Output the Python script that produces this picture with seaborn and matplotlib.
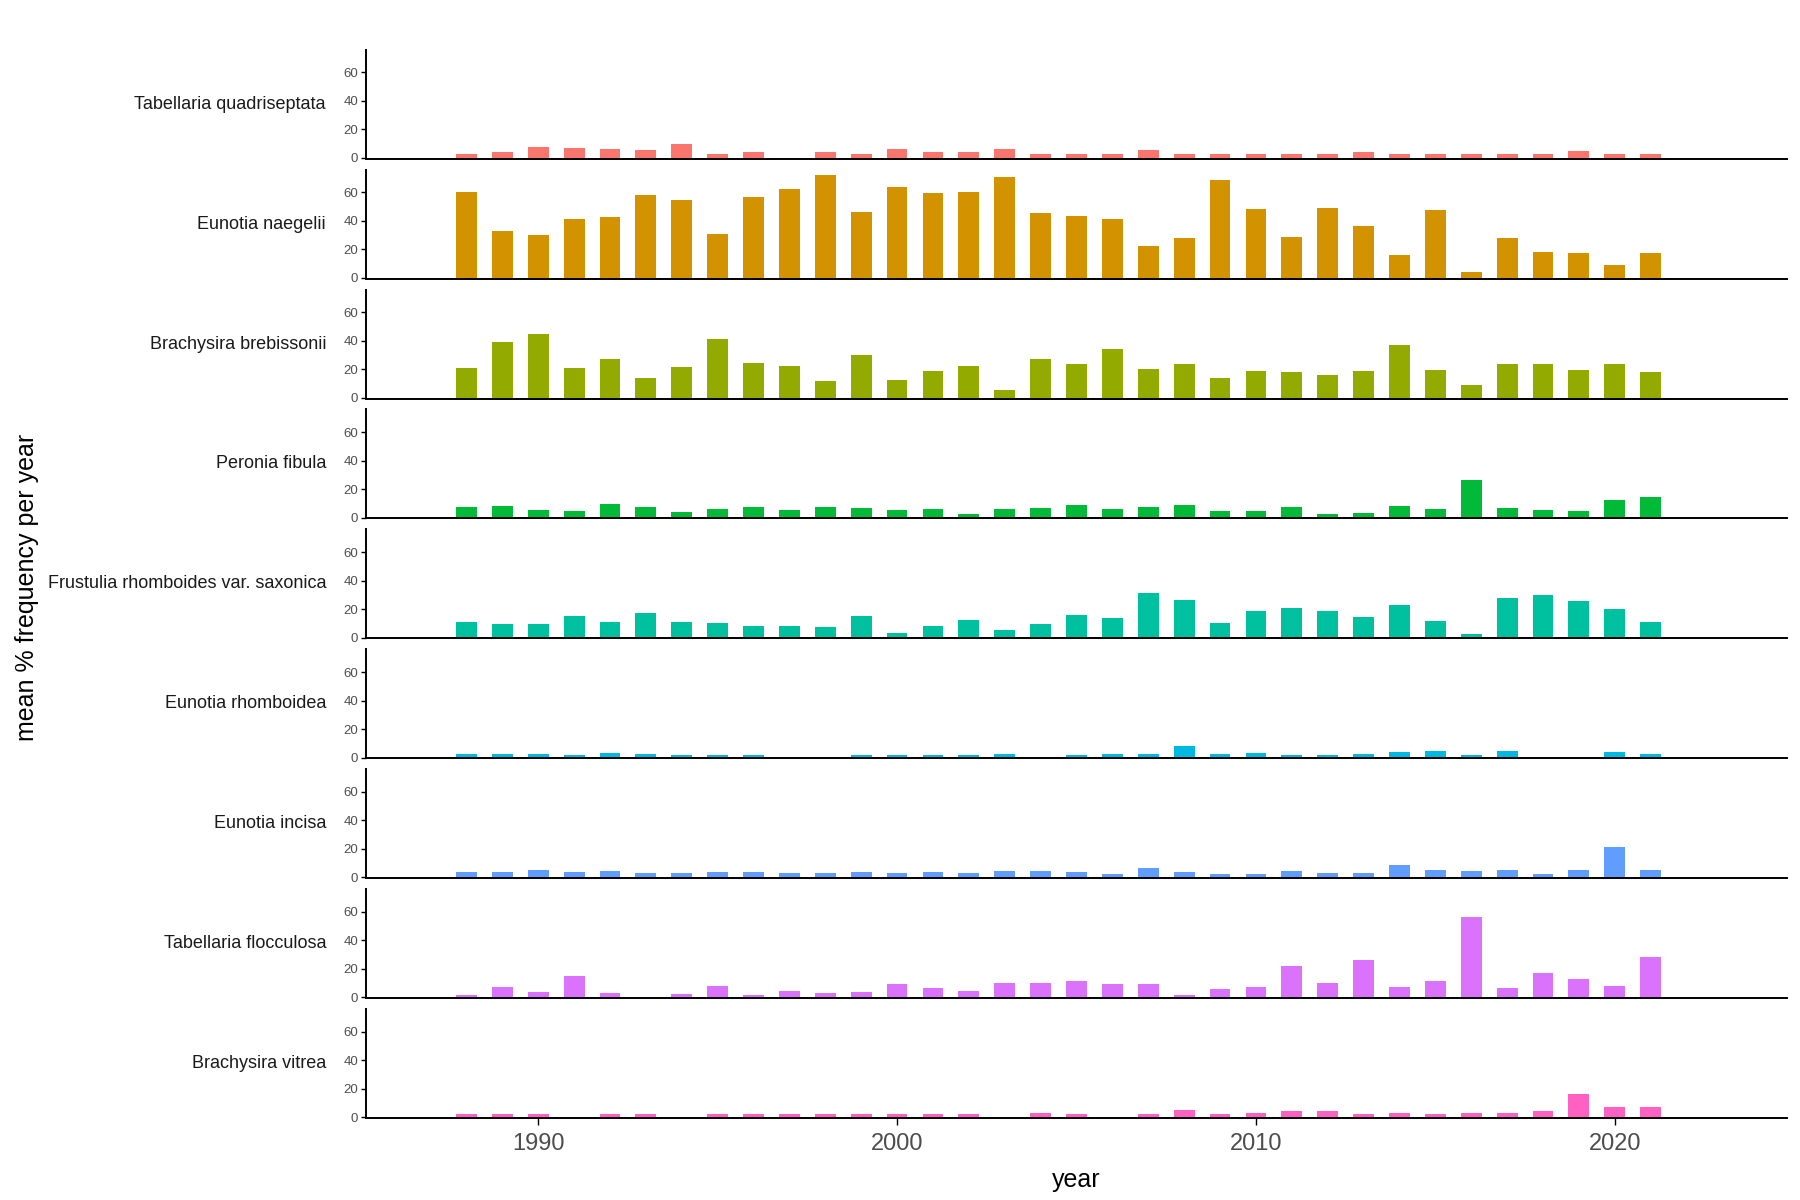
import numpy as np
import pandas as pd
import matplotlib
matplotlib.use("Agg")
import matplotlib.pyplot as plt
import seaborn as sns

nan = np.nan
years = list(range(1988, 2022))

species = [
    "Tabellaria quadriseptata",
    "Eunotia naegelii",
    "Brachysira brebissonii",
    "Peronia fibula",
    "Frustulia rhomboides var. saxonica",
    "Eunotia rhomboidea",
    "Eunotia incisa",
    "Tabellaria flocculosa",
    "Brachysira vitrea",
]

tabellaria_quadriseptata = [2.6, 3.9, 7.5, 6.8, 6.0, 5.3, 9.7, 3.1, 3.9, nan, 3.9, 2.6, 6.0, 3.9, 3.9, 6.0, 3.1,
                            2.6, 2.6, 5.3, 2.6, 3.1, 3.1, 2.6, 3.1, 3.9, 2.6, 3.1, 3.1, 2.6, 2.6, 4.6, 2.6, 2.6]
eunotia_naegelii = [60.2, 33.2, 30.2, 41.2, 42.7, 58.0, 55.0, 31.0, 56.6, 62.4, 72.0, 46.3, 63.9, 59.5, 60.2, 70.5,
                    45.6, 43.4, 41.2, 22.2, 28.0, 69.0, 48.5, 28.8, 49.3, 36.1, 16.3, 47.8, 3.9, 28.0, 18.5, 17.8,
                    9.0, 17.8]
brachysira_brebissonii = [21.0, 39.0, 45.0, 21.0, 27.0, 13.6, 21.7, 41.3, 24.6, 22.4, 12.0, 29.7, 12.8, 18.6, 22.4,
                          5.5, 27.0, 23.8, 34.0, 20.1, 23.8, 13.6, 18.6, 17.9, 15.7, 18.6, 36.9, 19.4, 9.1, 23.8,
                          23.8, 19.4, 23.8, 17.9]
peronia_fibula = [7.5, 8.2, 5.3, 4.6, 9.7, 7.5, 3.9, 6.0, 7.5, 5.3, 7.5, 6.8, 5.3, 6.0, 2.6, 6.0, 6.8, 9.0, 6.0,
                  7.5, 9.0, 4.6, 4.6, 7.5, 2.6, 3.1, 8.2, 6.0, 26.4, 6.8, 5.3, 4.6, 12.6, 14.8]
frustulia_saxonica = [11.3, 9.8, 9.8, 15.0, 11.3, 17.2, 11.3, 10.5, 8.3, 8.3, 7.6, 15.0, 3.2, 8.3, 12.7, 5.4, 9.8,
                      15.7, 13.5, 31.1, 26.7, 10.5, 18.6, 20.8, 18.6, 14.2, 23.0, 12.0, 2.6, 27.5, 29.7, 26.0,
                      20.1, 11.3]
eunotia_rhomboidea = [2.6, 2.6, 2.6, 2.0, 3.2, 2.6, 2.0, 2.0, 2.0, nan, nan, 2.0, 2.0, 2.0, 2.0, 2.6, nan, 2.0,
                      2.6, 2.6, 8.1, 2.6, 3.2, 2.0, 2.0, 2.6, 3.7, 4.4, 2.0, 4.4, nan, nan, 3.7, 2.6]
eunotia_incisa = [3.7, 3.7, 5.2, 3.7, 4.4, 3.0, 3.0, 3.7, 3.7, 3.0, 3.0, 3.7, 3.0, 3.7, 3.0, 4.4, 4.4, 3.7, 2.4,
                  6.6, 3.7, 2.4, 2.4, 4.4, 3.0, 3.0, 8.8, 5.2, 4.4, 5.2, 2.4, 5.2, 21.4, 5.2]
tabellaria_flocculosa = [2.0, 7.4, 3.7, 14.9, 3.0, nan, 2.4, 8.2, 2.0, 4.5, 3.0, 3.7, 9.7, 6.7, 4.5, 10.4, 10.4,
                         11.2, 9.7, 9.7, 2.0, 6.0, 7.4, 22.3, 10.4, 26.0, 7.4, 11.2, 56.6, 6.7, 17.1, 12.7, 8.2,
                         28.3]
brachysira_vitrea = [2.0, 2.0, 2.0, nan, 2.0, 2.0, nan, 2.4, 2.0, 2.0, 2.0, 2.0, 2.0, 2.4, 2.0, nan, 3.0, 2.4,
                     nan, 2.0, 5.2, 2.0, 3.0, 4.4, 4.4, 2.4, 3.0, 2.4, 3.0, 3.0, 4.4, 16.3, 7.4, 7.4]

series = [tabellaria_quadriseptata, eunotia_naegelii, brachysira_brebissonii, peronia_fibula,
          frustulia_saxonica, eunotia_rhomboidea, eunotia_incisa, tabellaria_flocculosa, brachysira_vitrea]

colors = ["#F8766D", "#D39200", "#93AA00", "#00BA38", "#00C19F", "#00B9E3", "#619CFF", "#DB72FB", "#FF61C3"]

x_ticks = [1990, 2000, 2010, 2020]
y_ticks = [0, 20, 40, 60]

rows = []
for sp, vals in zip(species, series):
    for yr, v in zip(years, vals):
        rows.append({"species": sp, "year": yr, "value": v})
df = pd.DataFrame(rows).dropna()

sns.set_theme(style="white")
plt.rcParams["font.family"] = ["Liberation Sans", "DejaVu Sans"]

fig, axes = plt.subplots(len(species), 1, figsize=(18, 12), dpi=100, sharex=True)
fig.subplots_adjust(left=366 / 1800, right=1787 / 1800, top=1 - 49.7 / 1200, bottom=1 - 1118 / 1200,
                    hspace=0.1)

for i, (ax, sp, col) in enumerate(zip(axes, species, colors)):
    sub = df[df["species"] == sp]
    sns.barplot(data=sub, x="year", y="value", native_scale=True, width=0.58, color=col,
                saturation=1, errorbar=None, linewidth=0, edgecolor="none", ax=ax)
    ax.set_xlim(1985.2, 2024.8)
    ax.set_ylim(-0.5, 76.0)
    ax.set_yticks(y_ticks)
    ax.set_xlabel("")
    ax.set_ylabel("")
    for s in ["top", "right"]:
        ax.spines[s].set_visible(False)
    for s in ["left", "bottom"]:
        ax.spines[s].set_color("black")
        ax.spines[s].set_linewidth(1.4)
    ax.tick_params(axis="y", left=True, length=3.6, width=1.0, color="black", labelsize=9.5,
                   labelcolor="#4D4D4D", pad=2)
    ax.text(-40 / 1421, 0.5, sp, transform=ax.transAxes, ha="right", va="center", fontsize=13,
            color="#1A1A1A")
    if i < len(species) - 1:
        ax.tick_params(axis="x", bottom=False, labelbottom=False)
    else:
        ax.set_xticks(x_ticks)
        ax.tick_params(axis="x", bottom=True, length=5, width=1.0, color="black", labelsize=17,
                       labelcolor="#4D4D4D", pad=6)

fig.text(1076.5 / 1800, 1 - 1180 / 1200, "year", ha="center", va="center", fontsize=18, color="black")
fig.text(27 / 1800, 1 - 587 / 1200, "mean % frequency per year", ha="center", va="center",
         rotation=90, fontsize=18, color="black")

fig.savefig("out.png", dpi=100)
